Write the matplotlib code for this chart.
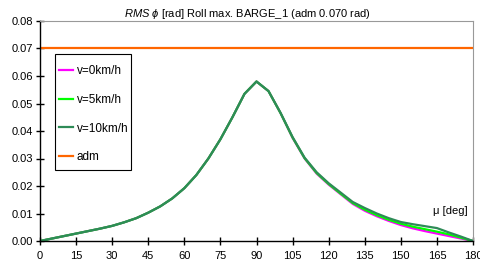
import matplotlib
matplotlib.use("Agg")
import matplotlib.pyplot as plt
from matplotlib.patches import Rectangle

plt.rcParams['font.family'] = ['Liberation Sans', 'DejaVu Sans']
plt.rcParams['mathtext.fontset'] = 'custom'
plt.rcParams['mathtext.it'] = 'Liberation Sans:italic'
plt.rcParams['mathtext.rm'] = 'Liberation Sans'

# heading angle mu [deg]
mu = list(range(0, 181, 5))

# RMS roll [rad]
v0 = [0, 0.0009, 0.0018, 0.0027, 0.0036, 0.0045, 0.0055, 0.0068, 0.0083, 0.0103,
      0.0126, 0.0155, 0.0192, 0.0240, 0.0300, 0.0370, 0.0450, 0.0535, 0.0580,
      0.0545, 0.0465, 0.0375, 0.0300, 0.0245, 0.0205, 0.0170, 0.0135, 0.0110,
      0.0090, 0.0073, 0.0058, 0.0046, 0.0036, 0.0027, 0.0018, 0.0009, 0]
v5 = [0, 0.0009, 0.0018, 0.0027, 0.0036, 0.0045, 0.0055, 0.0068, 0.0083, 0.0103,
      0.0126, 0.0155, 0.0192, 0.0240, 0.0300, 0.0370, 0.0450, 0.0535, 0.0580,
      0.0545, 0.0465, 0.0376, 0.0301, 0.0247, 0.0207, 0.0172, 0.0138, 0.0114,
      0.0094, 0.0077, 0.0063, 0.0052, 0.0043, 0.0034, 0.0024, 0.0012, 0]
v10 = [0, 0.0009, 0.0018, 0.0027, 0.0036, 0.0045, 0.0055, 0.0068, 0.0083, 0.0103,
       0.0126, 0.0155, 0.0192, 0.0240, 0.0300, 0.0370, 0.0450, 0.0535, 0.0580,
       0.0545, 0.0466, 0.0378, 0.0303, 0.0250, 0.0210, 0.0176, 0.0142, 0.0120,
       0.0100, 0.0083, 0.0069, 0.0061, 0.0054, 0.0047, 0.0031, 0.0016, 0]
adm = 0.070

fig = plt.figure(figsize=(4.81, 2.60), dpi=100)
ax = fig.add_axes([40/481, 19/260, 433/481, 220/260])

ax.plot(mu, v0, color="#ff00ff", lw=1.6, label="v=0km/h")
ax.plot(mu, v5, color="#00ff00", lw=1.6, label="v=5km/h")
ax.plot(mu, v10, color="#2e8b57", lw=1.6, label="v=10km/h")
ax.plot([0, 180], [adm, adm], color="#ff6600", lw=1.6, label="adm")

ax.set_xlim(0, 180)
ax.set_ylim(0, 0.08)
ax.set_xticks(range(0, 181, 15))
ax.set_yticks([i / 100 for i in range(9)])
ax.yaxis.set_major_formatter(matplotlib.ticker.FormatStrFormatter('%.2f'))
ax.tick_params(direction='inout', length=6, width=1, labelsize=8, pad=2)
ax.tick_params(axis='x', pad=4)
for s in ['top', 'right']:
    ax.spines[s].set_color('#999999')
    ax.spines[s].set_linewidth(0.8)
for s in ['left', 'bottom']:
    ax.spines[s].set_linewidth(1.0)

ax.set_title(r"$RMS\ \phi$ [rad] Roll max. BARGE_1 (adm 0.070 rad)", fontsize=8, pad=2, x=0.48)
ax.text(0.988, 0.115, "μ [deg]", transform=ax.transAxes, ha='right', va='bottom', fontsize=8)

# legend box drawn by hand: tall vertical padding, tight horizontal padding
ax.add_patch(Rectangle((0.0346, 0.324), 0.1755, 0.525, transform=ax.transAxes,
                       facecolor='white', edgecolor='black', lw=0.8, zorder=4))
leg = ax.legend(loc='upper left', bbox_to_anchor=(0.043, 0.80), borderaxespad=0,
                fontsize=8.5, labelspacing=1.42, handlelength=1.25, handletextpad=0.3,
                frameon=False, borderpad=0)
leg.set_zorder(5)

plt.savefig("out.png", dpi=100)
